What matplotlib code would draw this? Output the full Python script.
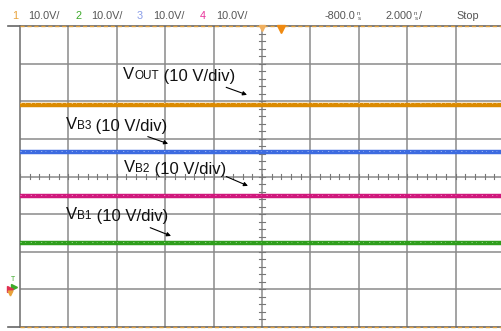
import matplotlib
matplotlib.use('Agg')
import matplotlib.pyplot as plt

plt.rcParams['font.family'] = ['Liberation Sans', 'DejaVu Sans']

# scope screen: 10 horizontal x 8 vertical divisions
n_xdiv = 10
n_ydiv = 8

# channel header
channels = ['1', '2', '3', '4']
channel_scale = ['10.0V/', '10.0V/', '10.0V/', '10.0V/']
channel_colors = ['#E8A23A', '#3DAA2A', '#8A9DE8', '#E8309A']
time_offset = '-800.0'
time_scale = '2.000'
run_state = 'Stop'

# trace levels, in divisions from screen centre
trace_names = ['OUT', 'B3', 'B2', 'B1']
trace_level_div = [1.91, 0.64, -0.53, -1.78]
trace_colors = ['#DB8A00', '#3D6BE0', '#D0177C', '#2E9E1C']
trace_label_xy = [(2.13, 2.71), (0.95, 1.38), (2.15, 0.24), (0.95, -1.01)]
trace_arrow = [((4.26, 2.37), (4.69, 2.17)),
               ((2.64, 1.06), (3.06, 0.87)),
               ((4.26, 0.00), (4.71, -0.25)),
               ((2.69, -1.36), (3.12, -1.58))]

W, H = 501, 331
fig = plt.figure(figsize=(W / 100, H / 100), dpi=100)
fig.patch.set_facecolor('white')

# screen area: left edge at x=20 px, top 26 px, bottom 327 px
x0, x1 = 20, 504
y_top, y_bot = 26, 327
ax = fig.add_axes([x0 / W, (H - y_bot) / H, (x1 - x0) / W, (y_bot - y_top) / H])
ax.set_xlim(0, n_xdiv)
ax.set_ylim(-n_ydiv / 2, n_ydiv / 2)
ax.set_xticks([])
ax.set_yticks([])
for side in ['top', 'right', 'bottom']:
    ax.spines[side].set_visible(False)
ax.spines['left'].set_color('#777777')
ax.spines['left'].set_linewidth(1.2)

grid_kw = dict(color='#8a8a8a', lw=1.1, zorder=1)
for i in range(1, n_xdiv):
    ax.axvline(i, **grid_kw)
for j in range(-n_ydiv // 2 + 1, n_ydiv // 2):
    ax.axhline(j, **grid_kw)

# minor ticks on the centre axes
cx = n_xdiv / 2
for k in range(n_xdiv * 5 + 1):
    ax.plot([k / 5, k / 5], [-0.06, 0.06], color='#777777', lw=0.8, zorder=1)
for k in range(n_ydiv * 5 + 1):
    yy = -n_ydiv / 2 + k / 5
    ax.plot([cx - 0.07, cx + 0.07], [yy, yy], color='#777777', lw=0.8, zorder=1)

# top and bottom borders with channel 1 clipping dashes
for yb in [n_ydiv / 2, -n_ydiv / 2]:
    ax.plot([-0.25, n_xdiv], [yb, yb], color='#666666', lw=1.2,
            clip_on=False, zorder=3)
    ax.plot([0, n_xdiv], [yb, yb], color='#E0A040', lw=1.0,
            dashes=(3, 2), clip_on=False, zorder=4)

# traces
for lvl, col in zip(trace_level_div, trace_colors):
    ax.plot([0, n_xdiv], [lvl, lvl], color=col, lw=3.2, solid_capstyle='butt', zorder=5)
    ax.plot([0, n_xdiv], [lvl + 0.035, lvl + 0.035], color='white', lw=0.6,
            alpha=0.55, dashes=(1.5, 4, 0.8, 6), zorder=6)

# trigger markers at top
ax.plot([5.4], [n_ydiv / 2 - 0.08], marker='v', color='#F08A10', ms=6,
        clip_on=False, zorder=7)
ax.plot([cx], [n_ydiv / 2 - 0.05], marker='v', color='#F0B060', ms=4,
        clip_on=False, zorder=7)

# ground markers on the left
ax.plot([-0.12], [-2.95], marker='>', color='#3DAA2A', ms=5, clip_on=False, zorder=7)
ax.plot([-0.2], [-3.0], marker='>', color='#E03050', ms=4, clip_on=False, zorder=7)
ax.plot([-0.2], [-3.1], marker='v', color='#E8A23A', ms=3.5, clip_on=False, zorder=7)
ax.text(-0.14, -2.75, 'T', color='#3DAA2A', fontsize=5, ha='center', va='center')

# trace labels with arrows
for name, (tx, ty), (a0, a1) in zip(trace_names, trace_label_xy, trace_arrow):
    t1 = ax.text(tx, ty, 'V', fontsize=12, va='center', ha='left', color='#111111', zorder=8)
    t2 = ax.annotate(name, xy=(1, 0), xycoords=t1, fontsize=8.5, va='bottom',
                     ha='left', color='#111111', zorder=8)
    ax.annotate(' (10 V/div)', xy=(1, 0), xycoords=t2, xytext=(0, -1.3),
                textcoords='offset points', fontsize=12, va='bottom',
                ha='left', color='#111111', zorder=8)
    ax.annotate('', xy=a1, xytext=a0,
                arrowprops=dict(arrowstyle='-|>', color='black', lw=0.8,
                                mutation_scale=6, shrinkA=0, shrinkB=0), zorder=8)

# header line
hy = 1 - 16 / H
grey = '#555555'
hdr = dict(fontsize=7.8, va='center', ha='left')
ch_x = [12, 75, 137, 200]
for cx_px, ch, sc, col in zip(ch_x, channels, channel_scale, channel_colors):
    fig.text(cx_px / W, hy, ch, color=col, **hdr)
    fig.text((cx_px + 16) / W, hy, sc, color=grey, **hdr)


def stacked_unit(x_px):
    # tiny two-row "ns" unit glyph
    fig.text(x_px / W, hy + 2.5 / H, 'n', color=grey, fontsize=4.5, va='center', ha='left')
    fig.text((x_px + 0.5) / W, hy - 3 / H, 's', color=grey, fontsize=4.5, va='center', ha='left')


fig.text(325 / W, hy, time_offset, color=grey, **hdr)
stacked_unit(357)
fig.text(385 / W, hy, time_scale, color=grey, **hdr)
stacked_unit(414)
fig.text(419 / W, hy, '/', color=grey, **hdr)
fig.text(456 / W, hy, run_state, color=grey, **hdr)

fig.savefig('out.png', dpi=100)
